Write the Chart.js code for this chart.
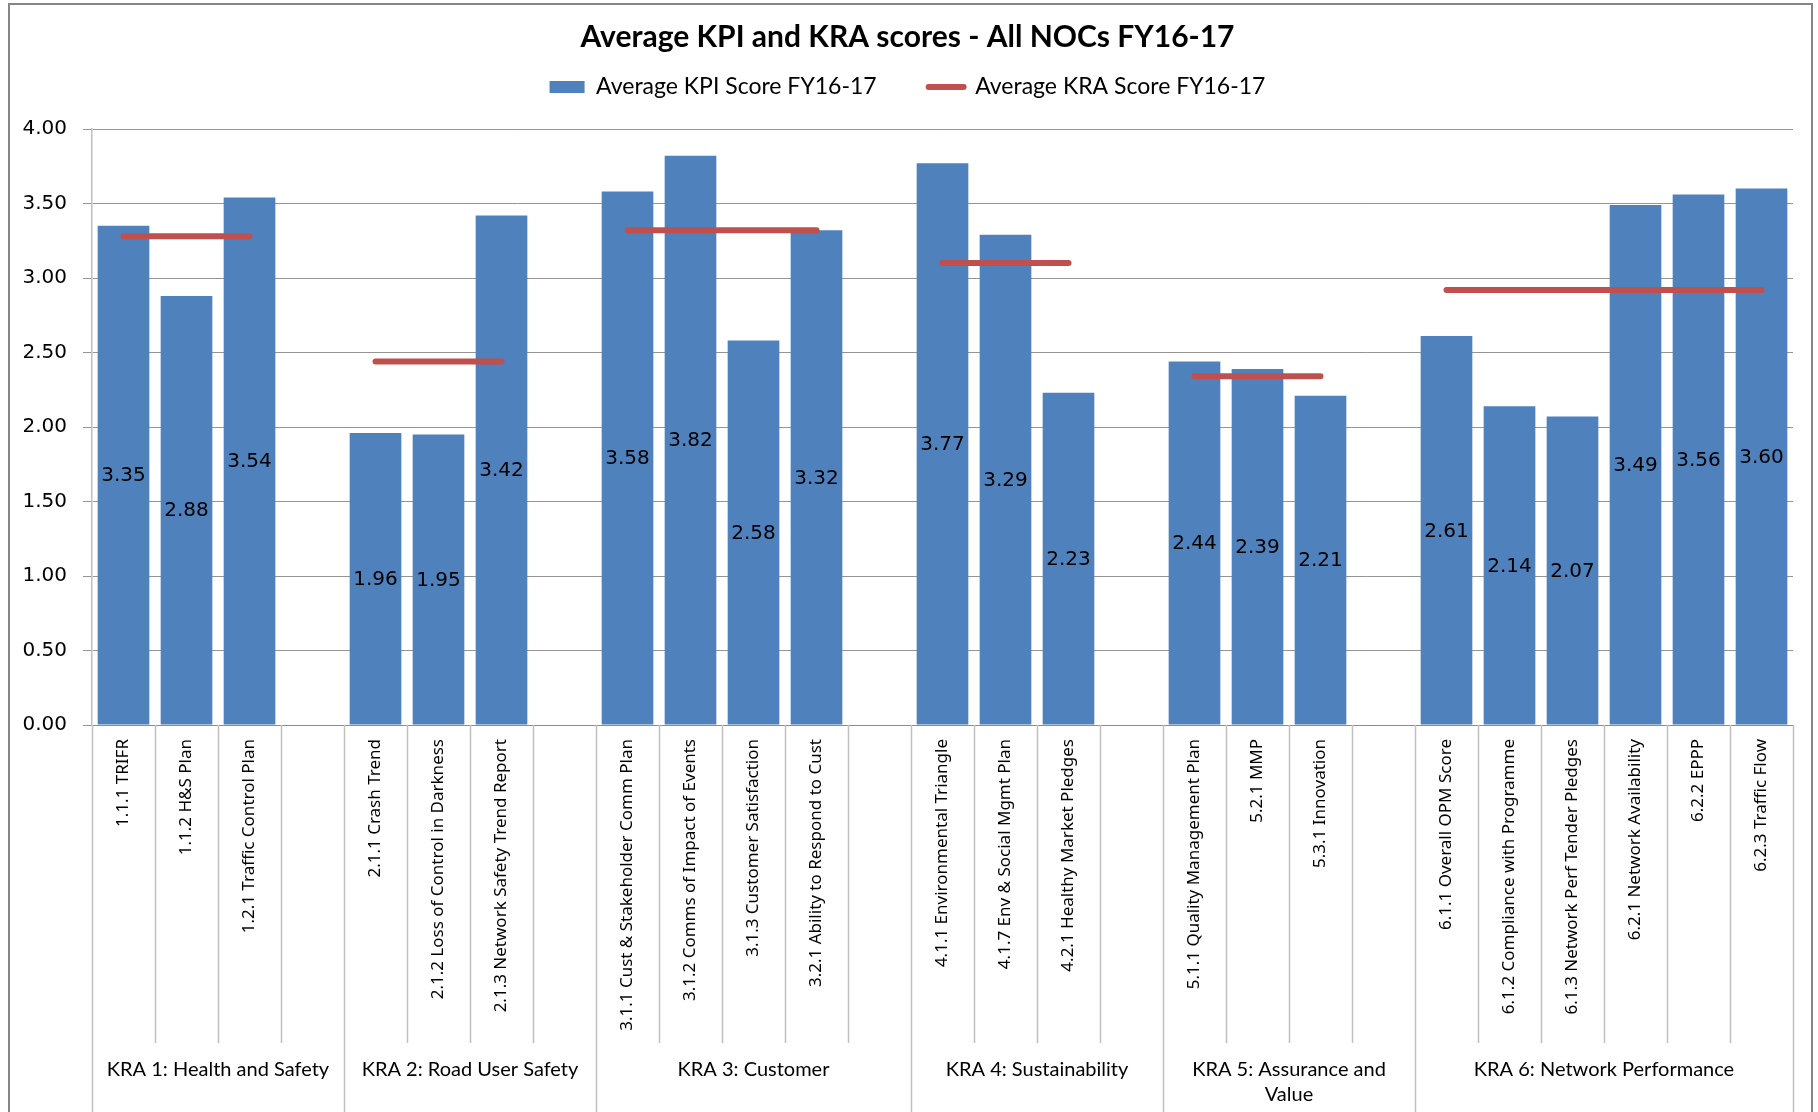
<!DOCTYPE html>
<html>
<head>
<meta charset="utf-8">
<script src="https://cdn.jsdelivr.net/npm/chart.js@4.4.1/dist/chart.umd.min.js"></script>
<style>
  html, body { margin: 0; padding: 0; background: #fff; }
  #wrap { width: 1818px; height: 1112px; position: relative; }
</style>
</head>
<body>
<div id="wrap"><canvas id="myChart"></canvas></div>
<script>
// ____________________ data ____________________
const categories = [
  '1.1.1 TRIFR', '1.1.2 H&S Plan', '1.2.1 Traffic Control Plan', '',
  '2.1.1 Crash Trend', '2.1.2 Loss of Control in Darkness', '2.1.3 Network Safety Trend Report', '',
  '3.1.1 Cust & Stakeholder Comm Plan', '3.1.2 Comms of Impact of Events', '3.1.3 Customer Satisfaction', '3.2.1 Ability to Respond to Cust', '',
  '4.1.1 Environmental Triangle', '4.1.7 Env & Social Mgmt Plan', '4.2.1 Healthy Market Pledges', '',
  '5.1.1 Quality Management Plan', '5.2.1 MMP', '5.3.1 Innovation', '',
  '6.1.1 Overall OPM Score', '6.1.2 Compliance with Programme', '6.1.3 Network Perf Tender Pledges',
  '6.2.1 Network Availability', '6.2.2 EPPP', '6.2.3 Traffic Flow'
];
const kpiScores = [
  3.35, 2.88, 3.54, null,
  1.96, 1.95, 3.42, null,
  3.58, 3.82, 2.58, 3.32, null,
  3.77, 3.29, 2.23, null,
  2.44, 2.39, 2.21, null,
  2.61, 2.14, 2.07, 3.49, 3.56, 3.60
];
const kraGroups = [
  'KRA 1: Health and Safety', 'KRA 2: Road User Safety', 'KRA 3: Customer',
  'KRA 4: Sustainability', 'KRA 5: Assurance and Value', 'KRA 6: Network Performance'
];
const kraSizes = [4, 4, 5, 4, 4, 6];   // categories in each group (spacer included)
const kraScores = [3.28, 2.44, 3.32, 3.10, 2.34, 2.92];

// KRA score repeated across the bars of its group, gaps on spacers
let kraLine = [];
let groupOf = [];
kraSizes.forEach((n, g) => { for (let k = 0; k < n; k++) groupOf.push(g); });
for (let i = 0; i < categories.length; i++) {
  kraLine.push(kpiScores[i] == null ? null : kraScores[groupOf[i]]);
}

// ____________________ plugins ____________________
const frame = {
  id: 'frame',
  beforeDraw(chart) {
    const ctx = chart.ctx;
    ctx.save();
    ctx.fillStyle = '#fff';
    ctx.fillRect(0, 0, chart.width, chart.height);
    ctx.strokeStyle = '#868686';
    ctx.lineWidth = 2;
    ctx.strokeRect(9, 4, 1803, 1200);
    ctx.restore();
  }
};

const barValues = {
  id: 'barValues',
  afterDatasetsDraw(chart) {
    const ctx = chart.ctx;
    const meta = chart.getDatasetMeta(0);
    ctx.save();
    ctx.font = '20px "DejaVu Sans"';
    ctx.fillStyle = '#000';
    ctx.textAlign = 'center';
    ctx.textBaseline = 'middle';
    meta.data.forEach((bar, i) => {
      if (kpiScores[i] == null) return;
      ctx.fillText(kpiScores[i].toFixed(2), bar.x, (bar.y + bar.base) / 2 + 1);
    });
    ctx.restore();
  }
};

const kraAxis = {
  id: 'kraAxis',
  afterDraw(chart) {
    const ctx = chart.ctx;
    const xs = chart.scales.x;
    const step = xs.getPixelForValue(1) - xs.getPixelForValue(0);
    const top = xs.top;
    let bounds = [0];
    kraSizes.forEach(n => bounds.push(bounds[bounds.length - 1] + n));
    ctx.save();
    ctx.strokeStyle = '#c0c0c0';
    ctx.lineWidth = 1.5;
    for (let k = 0; k <= categories.length; k++) {
      const x = Math.round(xs.getPixelForValue(0) - step / 2 + k * step) + 0.5;
      const isGroup = bounds.indexOf(k) >= 0;
      ctx.beginPath();
      ctx.moveTo(x, top);
      ctx.lineTo(x, isGroup ? chart.height : top + 318);
      ctx.stroke();
    }
    ctx.font = '20px Lato';
    ctx.fillStyle = '#000';
    ctx.textAlign = 'center';
    ctx.textBaseline = 'middle';
    kraGroups.forEach((name, g) => {
      const x0 = xs.getPixelForValue(bounds[g]) - step / 2;
      const x1 = xs.getPixelForValue(bounds[g + 1] - 1) + step / 2;
      const maxW = x1 - x0 - 10;
      let lines = [];
      let cur = '';
      name.split(' ').forEach(w => {
        const test = cur ? cur + ' ' + w : w;
        if (ctx.measureText(test).width > maxW && cur) { lines.push(cur); cur = w; }
        else cur = test;
      });
      lines.push(cur);
      lines.forEach((t, j) => ctx.fillText(t, (x0 + x1) / 2, top + 345 + j * 25));
    });
    ctx.restore();
  }
};

// ____________________ chart ____________________
const data = {
  labels: categories,
  datasets: [
    {
      type: 'bar',
      label: 'Average KPI Score FY16-17',
      data: kpiScores,
      backgroundColor: '#4F81BD',
      borderWidth: 0,
      barPercentage: 0.82,
      categoryPercentage: 1,
      order: 1
    },
    {
      type: 'line',
      label: 'Average KRA Score FY16-17',
      data: kraLine,
      borderColor: '#C0504D',
      backgroundColor: '#C0504D',
      borderWidth: 6,
      borderCapStyle: 'round',
      pointRadius: 0,
      pointHoverRadius: 0,
      spanGaps: false,
      order: 0
    }
  ]
};

const config = {
  type: 'bar',
  data: data,
  plugins: [frame, kraAxis, barValues],
  options: {
    responsive: false,
    animation: false,
    layout: { padding: { left: 22, right: 25, top: 0, bottom: 0 } },
    plugins: {
      tooltip: { enabled: false },
      title: {
        display: true,
        text: 'Average KPI and KRA scores - All NOCs FY16-17',
        color: '#000',
        font: { family: 'Lato', size: 30, weight: 'bold' },
        padding: { top: 19, bottom: -31.5 }
      },
      legend: {
        display: true,
        position: 'top',
        labels: {
          color: '#000',
          font: { family: 'Lato', size: 23 },
          usePointStyle: true,
          boxWidth: 35,
          boxHeight: 12,
          pointStyleWidth: 35,
          padding: 52,
          sort: (a, b) => a.datasetIndex - b.datasetIndex,
          generateLabels(chart) {
            const items = Chart.defaults.plugins.legend.labels.generateLabels(chart);
            items.forEach(it => {
              if (it.datasetIndex === 0) {
                it.pointStyle = 'rect';
                it.lineWidth = 0;
              } else {
                it.pointStyle = 'line';
                it.lineWidth = 6;
                it.lineCap = 'round';
                it.strokeStyle = '#C0504D';
              }
            });
            return items;
          }
        }
      }
    },
    scales: {
      x: {
        type: 'category',
        offset: true,
        grid: { display: false, drawTicks: false },
        border: { display: true, color: '#8c8c8c', width: 1 },
        ticks: {
          autoSkip: false,
          minRotation: 90,
          maxRotation: 90,
          padding: 14,
          color: '#000',
          font: { family: 'Noto Sans', size: 17 }
        },
        afterFit(scale) { scale.height = 387; }
      },
      xTop: {
        type: 'category',
        position: 'top',
        display: true,
        grid: { display: false, drawTicks: false },
        border: { display: false },
        ticks: { display: false },
        afterFit(scale) { scale.height = 20.5; }
      },
      y: {
        min: 0,
        max: 4,
        ticks: {
          stepSize: 0.5,
          padding: 16,
          color: '#000',
          font: { family: 'DejaVu Sans', size: 20 },
          callback: v => v.toFixed(2)
        },
        grid: { color: '#959595', lineWidth: 1, tickLength: 9 },
        border: { display: true, color: '#c0c0c0', width: 1.5 },
        afterFit(scale) { scale.width = 70; }
      }
    }
  }
};

const canvas = document.getElementById('myChart');
canvas.width = 1818;
canvas.height = 1112;
let chart = new Chart(canvas, config);
</script>
</body>
</html>
